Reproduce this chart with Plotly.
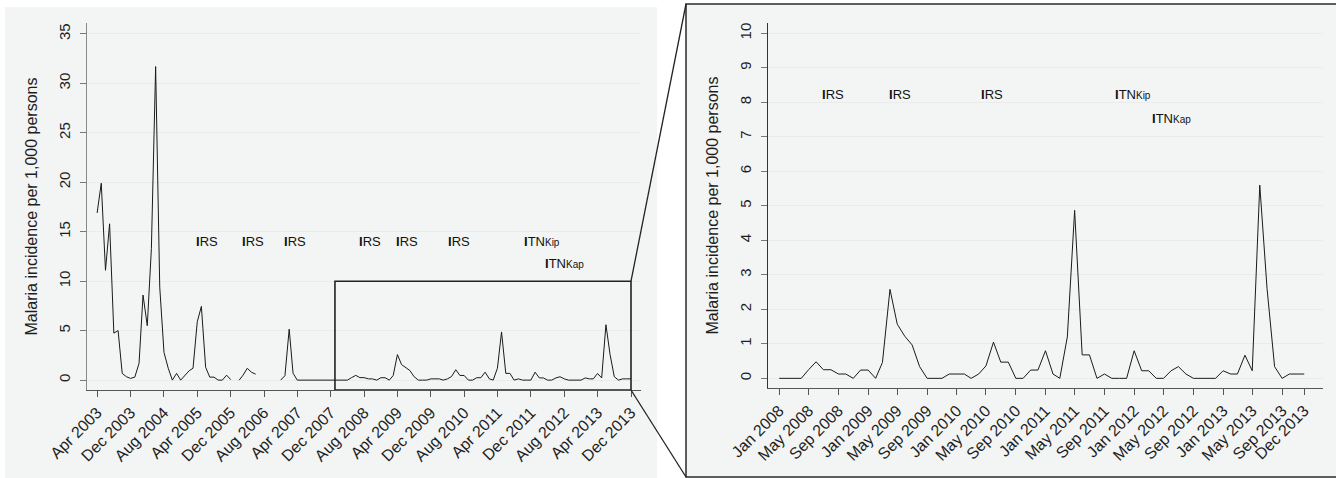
import pandas as pd
import plotly.graph_objects as go

# ---------------- data ----------------
start_month = "2003-04-01"
end_month = "2013-12-01"
zoom_start = "2008-01-01"

incidence = [
    # 2003 Apr-Dec
    16.9, 19.9, 11.1, 15.8, 4.75, 5.0, 0.68, 0.34, 0.17,
    # 2004
    0.3, 1.7, 8.6, 5.5, 13.3, 31.7, 9.4, 2.8, 1.2, 0.0, 0.68, 0.0,
    # 2005
    0.5, 0.95, 1.2, 5.9, 7.45, 1.3, 0.3, 0.3, 0.0, 0.0, 0.5, 0.05,
    # 2006
    None, 0.0, 0.5, 1.2, 0.8, 0.6, None, None, None, None, None, 0.0,
    # 2007
    0.45, 5.15, 0.7, 0.0, 0.0, 0.0, 0.0, 0.0, 0.0, 0.0, 0.0, 0.0,
    # 2008
    0.0, 0.0, 0.0, 0.0, 0.25, 0.48, 0.25, 0.25, 0.125, 0.125, 0.0, 0.24,
    # 2009
    0.24, 0.0, 0.46, 2.58, 1.57, 1.22, 0.97, 0.34, 0.0, 0.0, 0.0, 0.125,
    # 2010
    0.125, 0.125, 0.0, 0.125, 0.36, 1.05, 0.47, 0.47, 0.0, 0.0, 0.24, 0.24,
    # 2011
    0.8, 0.125, 0.0, 1.2, 4.87, 0.68, 0.68, 0.0, 0.125, 0.0, 0.0, 0.0,
    # 2012
    0.8, 0.22, 0.22, 0.0, 0.0, 0.22, 0.34, 0.125, 0.0, 0.0, 0.0, 0.0,
    # 2013
    0.22, 0.125, 0.125, 0.67, 0.22, 5.6, 2.6, 0.34, 0.0, 0.125, 0.125, 0.125,
]

left_tick_labels = ["Apr 2003", "Dec 2003", "Aug 2004", "Apr 2005", "Dec 2005",
                    "Aug 2006", "Apr 2007", "Dec 2007", "Aug 2008", "Apr 2009",
                    "Dec 2009", "Aug 2010", "Apr 2011", "Dec 2011", "Aug 2012",
                    "Apr 2013", "Dec 2013"]
right_tick_labels = ["Jan 2008", "May 2008", "Sep 2008", "Jan 2009", "May 2009",
                     "Sep 2009", "Jan 2010", "May 2010", "Sep 2010", "Jan 2011",
                     "May 2011", "Sep 2011", "Jan 2012", "May 2012", "Sep 2012",
                     "Jan 2013", "May 2013", "Sep 2013", "Dec 2013"]

intervention_names = ["IRS", "IRS", "IRS", "IRS", "IRS", "IRS", "ITN", "ITN"]
intervention_sites = ["", "", "", "", "", "", "Kip", "Kap"]
intervention_dates = ["2005-04-01", "2006-03-01", "2007-01-01", "2008-07-01",
                      "2009-04-01", "2010-04-15", "2011-10-20", "2012-03-20"]
intervention_rows = [0, 0, 0, 0, 0, 0, 0, 1]

y_title = "Malaria incidence per 1,000 persons"

# ---------------- layout constants ----------------
W, H = 1336, 478
FONT = "Liberation Sans, Arial, Helvetica, sans-serif"
TXT = "#1e1e1e"
GRID = "#ebebeb"
PANEL = "#f3f5f5"

months = pd.date_range(start_month, end_month, freq="MS")
left_ticks = [pd.to_datetime(s, format="%b %Y") for s in left_tick_labels]
right_ticks = [pd.to_datetime(s, format="%b %Y") for s in right_tick_labels]

L_dom_x = [87 / W, 641 / W]
L_dom_y = [(H - 390) / H, (H - 23) / H]
R_dom_x = [768 / W, 1322.7 / W]
R_dom_y = [(H - 388) / H, (H - 23) / H]
L_range_x = [pd.Timestamp("2003-01-17"), pd.Timestamp("2014-02-12")]
R_range_x = [pd.Timestamp("2007-11-16"), pd.Timestamp("2014-02-15")]
L_range_y = [-1.0, 36.1]
R_range_y = [-0.28, 10.3]
zoom_top = 10

L_label_y = [14.0, 11.8]
R_label_y = [8.23, 7.54]

zmask = months >= pd.Timestamp(zoom_start)
z_months = months[zmask]
z_vals = [v for v, m in zip(incidence, zmask) if m]

fig = go.Figure()
line_style = dict(color="#1a1a1a", width=1)
fig.add_trace(go.Scatter(x=months, y=incidence, mode="lines", line=line_style,
                         connectgaps=False, showlegend=False, xaxis="x", yaxis="y"))
fig.add_trace(go.Scatter(x=z_months, y=z_vals, mode="lines", line=line_style,
                         connectgaps=False, showlegend=False, xaxis="x2", yaxis="y2"))

xtickfont = dict(family=FONT, size=16, color=TXT)
ytickfont = dict(family=FONT, size=15, color=TXT)


def xaxis_cfg(dom, rng, ticks, labels, anchor):
    return dict(domain=dom, anchor=anchor, type="date", automargin=False,
                range=[rng[0].strftime("%Y-%m-%d"), rng[1].strftime("%Y-%m-%d")],
                tickmode="array", tickvals=ticks, ticktext=labels, tickangle=-45,
                ticks="outside", ticklen=6, tickcolor="#555", tickwidth=1,
                showline=True, linecolor="#555", linewidth=1.2,
                showgrid=False, zeroline=False, tickfont=xtickfont)


def yaxis_cfg(dom, rng, dtick, anchor, linecolor):
    return dict(domain=dom, anchor=anchor, range=rng, tick0=0, dtick=dtick,
                automargin=False,
                tickangle=-90, ticks="outside", ticklen=6, tickcolor="#777",
                showline=True, linecolor=linecolor, linewidth=1.2,
                showgrid=True, gridcolor=GRID, gridwidth=1, zeroline=False,
                tickfont=ytickfont, ticklabelstandoff=4,
                title=dict(text=y_title, font=dict(family=FONT, size=16, color=TXT),
                           standoff=14))


fig.update_layout(
    width=W, height=H, autosize=False,
    margin=dict(l=0, r=0, t=0, b=0, pad=0),
    paper_bgcolor="white", plot_bgcolor="white",
    font=dict(family=FONT, color=TXT),
    xaxis=xaxis_cfg(L_dom_x, L_range_x, left_ticks, left_tick_labels, "y"),
    yaxis=yaxis_cfg(L_dom_y, L_range_y, 5, "x", "#888"),
    xaxis2=xaxis_cfg(R_dom_x, R_range_x, right_ticks, right_tick_labels, "y2"),
    yaxis2=yaxis_cfg(R_dom_y, R_range_y, 1, "x2", "#333"),
)

# panel backgrounds
shapes = [
    dict(type="rect", xref="paper", yref="paper", x0=5 / W, x1=657 / W,
         y0=-0.01, y1=(H - 7) / H, fillcolor=PANEL, line=dict(width=0), layer="below"),
    dict(type="rect", xref="paper", yref="paper", x0=686 / W, x1=1.01,
         y0=(H - 477) / H, y1=(H - 4) / H, fillcolor=PANEL,
         line=dict(color="#2a2a2a", width=1.5), layer="below"),
    # zoom rectangle on the left panel
    dict(type="rect", xref="x", yref="y", x0=zoom_start, x1=end_month,
         y0=L_range_y[0], y1=zoom_top, line=dict(color="#222", width=1.6),
         fillcolor="rgba(0,0,0,0)", layer="above"),
]


def to_paper_x(t, rng, dom):
    t = pd.Timestamp(t)
    f = (t - rng[0]) / (rng[1] - rng[0])
    return dom[0] + f * (dom[1] - dom[0])


def to_paper_y(v, rng, dom):
    f = (v - rng[0]) / (rng[1] - rng[0])
    return dom[0] + f * (dom[1] - dom[0])


cx = to_paper_x(end_month, L_range_x, L_dom_x)
cy_top = to_paper_y(zoom_top, L_range_y, L_dom_y)
cy_bot = to_paper_y(L_range_y[0], L_range_y, L_dom_y)
shapes.append(dict(type="line", xref="paper", yref="paper", x0=cx, y0=cy_top,
                   x1=686 / W, y1=(H - 4) / H, line=dict(color="#222", width=1.3)))
shapes.append(dict(type="line", xref="paper", yref="paper", x0=cx, y0=cy_bot,
                   x1=686 / W, y1=(H - 477) / H, line=dict(color="#222", width=1.3)))
fig.update_layout(shapes=shapes)

# intervention labels
annots = []
for name, site, d, row in zip(intervention_names, intervention_sites,
                              intervention_dates, intervention_rows):
    text = "<b>" + name[0] + "</b>" + name[1:]
    if site:
        text += "<span style='font-size:10px'>" + site + "</span>"
    panels = [("x", "y", L_label_y)]
    if pd.Timestamp(d) >= pd.Timestamp(zoom_start):
        panels.append(("x2", "y2", R_label_y))
    for xr, yr, ys in panels:
        annots.append(dict(x=d, y=ys[row], xref=xr, yref=yr, text=text,
                           showarrow=False, xanchor="left", yanchor="middle",
                           xshift=-3, font=dict(family=FONT, size=13, color="#111")))
fig.update_layout(annotations=annots)

fig.write_html(
    "out.html",
    config={"displayModeBar": False},
    post_script="document.body.style.margin='0';document.body.style.overflow='hidden';",
)
